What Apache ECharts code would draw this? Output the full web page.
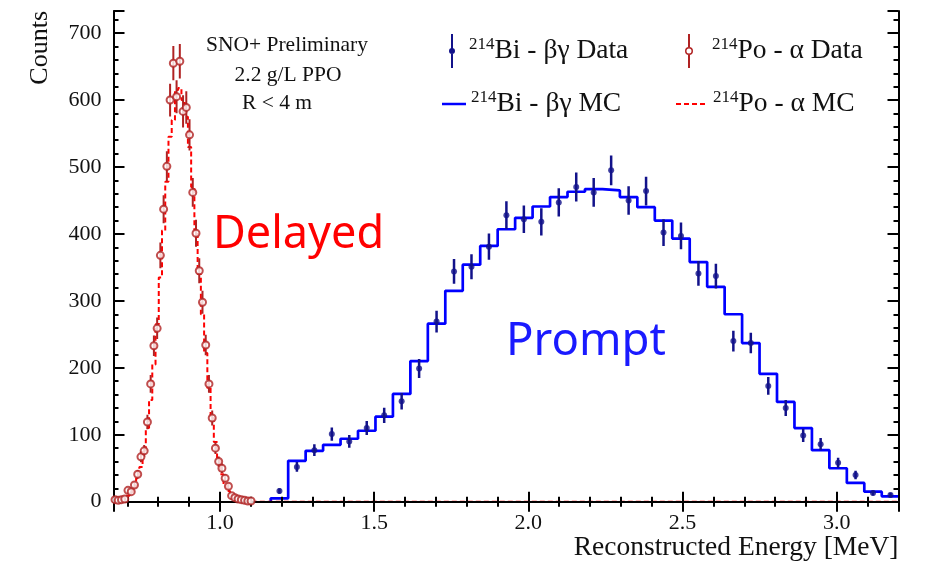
<!DOCTYPE html>
<html><head><meta charset="utf-8">
<script src="https://cdn.jsdelivr.net/npm/echarts@6/dist/echarts.min.js"></script>
<style>html,body{margin:0;padding:0;background:#fff}#c{width:936px;height:577px}</style>
</head><body><div id="c"></div>
<script>
// ---- data ----
const biStart = 1.193, biWidth = 0.0566;          // 214Bi bin centre of first bin, bin width [MeV]
const biData = [16, 52, 77, 101, 90, 110, 129, 150, 199, 269, 344, 351, 381, 428, 422, 418, 447, 470, 462, 495, 450, 464, 402, 397, 341, 337, 240, 237, 173, 140, 99, 86, 58, 40, 13, 10];
const biErr  = [4, 7.2, 8.8, 10, 9.5, 10.5, 11.4, 12.2, 14.1, 16.4, 18.5, 18.7, 19.5, 20.7, 20.5, 20.4, 21.1, 21.7, 21.5, 22.2, 21.2, 21.5, 20, 19.9, 18.5, 18.4, 15.5, 15.4, 13.2, 11.8, 9.9, 9.3, 7.6, 6.3, 3.6, 3.2];
const biMC   = [5, 61, 76, 85, 94, 106, 127, 161, 210, 266, 315, 354, 382, 407, 424, 441, 455, 463, 467, 465, 455, 440, 420, 393, 358, 321, 280, 237, 191, 149, 110, 77, 50, 28, 15, 8];

const poStart = 0.660, poWidth = 0.0105;          // 214Po
const poData = [3, 2, 3, 4, 17, 15, 25, 41, 67, 76, 119, 176, 233, 259, 368, 437, 501, 600, 655, 605, 658, 583, 589, 548, 462, 401, 345, 298, 234, 176, 125, 80, 60, 50, 35, 23, 9, 6, 4, 3, 2, 1, 1];
const poErr  = [1.7, 1.4, 1.7, 2, 4.1, 3.9, 5, 6.4, 8.2, 8.7, 10.9, 13.3, 15.3, 16.1, 19.2, 20.9, 22.4, 24.5, 25.6, 24.6, 25.7, 24.1, 24.3, 23.4, 21.5, 20, 18.6, 17.3, 15.3, 13.3, 11.2, 8.9, 7.7, 7.1, 5.9, 4.8, 3, 2.4, 2, 1.7, 1.4, 1, 1];
const poMC   = [1, 2, 3, 5, 9, 14, 22, 35, 52, 76, 110, 152, 205, 265, 335, 405, 478, 545, 570, 615, 618, 600, 575, 530, 470, 405, 340, 280, 222, 170, 125, 89, 62, 41, 26, 16, 9, 5, 3, 2, 1, 1, 0];

const xRange = [0.655, 3.2];
const yRange = [0, 733];
const xMajorTicks = [1.0, 1.5, 2.0, 2.5, 3.0];
const yMajorTicks = [0, 100, 200, 300, 400, 500, 600, 700];

const names = ['214Bi - βγ Data', '214Po - α Data', '214Bi - βγ MC', '214Po - α MC'];

// ---- build series data ----
function centres(start, w, n) { const c = []; for (let i = 0; i < n; i++) c.push(start + i * w); return c; }
const biX = centres(biStart, biWidth, biData.length);
const poX = centres(poStart, poWidth, poData.length);
function stepPath(xs, w, vals) {
  const p = [[xs[0] - w / 2, 0]];
  vals.forEach((v, i) => { p.push([xs[i] - w / 2, v]); p.push([xs[i] + w / 2, v]); });
  return p;
}
const biStep = stepPath(biX, biWidth, biMC);
const poStep = [[xRange[0], 0]].concat(stepPath(poX, poWidth, poMC)).concat([[xRange[1], 0]]);

function errRender(color, width) {
  return function (params, api) {
    const x = api.value(0), y = api.value(1), e = api.value(2);
    const a = api.coord([x, y - e]), b = api.coord([x, y + e]);
    return { type: 'line', shape: { x1: a[0], y1: a[1], x2: b[0], y2: b[1] }, style: { stroke: color, lineWidth: width } };
  };
}

const SERIF = 'Liberation Serif';
const BLUE_D = '#12128a', RED_D = '#b02222';
const tickStyle = { color: '#000', width: 2 };
const gridBox = { left: 113.5, top: 11, width: 785, height: 490.7, containLabel: false, outerBoundsMode: 'none' };

// grid 0: frame + major ticks, grid 1 (same box): minor ticks
function xAx(grid, pos, split, len, extra) {
  return Object.assign({
    type: 'value', gridIndex: grid, position: pos, min: xRange[0], max: xRange[1], splitNumber: split, z: 5,
    axisLine: { show: grid === 0, lineStyle: { color: '#000', width: 2 } },
    axisTick: { show: true, inside: true, length: len, lineStyle: tickStyle },
    axisLabel: { show: false }, splitLine: { show: false }
  }, extra || {});
}
function yAx(grid, pos, interval, len, extra) {
  return Object.assign({
    type: 'value', gridIndex: grid, position: pos, min: yRange[0], max: yRange[1], interval: interval, z: 5,
    axisLine: { show: grid === 0, lineStyle: { color: '#000', width: 2 } },
    axisTick: { show: true, inside: true, length: len, lineStyle: tickStyle },
    axisLabel: { show: false }, splitLine: { show: false }
  }, extra || {});
}

const legendFmt = n => '{s|' + n.slice(0, 3) + '}{t|' + n.slice(3) + '}';
function legendText(pad) {
  return {
    fontFamily: SERIF, color: '#111', padding: [0, 0, 0, pad],
    rich: {
      s: { fontFamily: SERIF, fontSize: 17, color: '#111', verticalAlign: 'top', lineHeight: 17 },
      t: { fontFamily: SERIF, fontSize: 27.5, color: '#111', lineHeight: 30 }
    }
  };
}

const chart = echarts.init(document.getElementById('c'), null, { renderer: 'canvas' });
chart.setOption({
  backgroundColor: '#fff',
  animation: false,
  grid: [Object.assign({}, gridBox), Object.assign({}, gridBox)],
  xAxis: [
    xAx(0, 'bottom', 5, 10, {
      axisLabel: { show: true, customValues: xMajorTicks, formatter: v => v.toFixed(1), fontFamily: SERIF, fontSize: 22, color: '#111', margin: 11 },
      name: 'Reconstructed Energy [MeV]', nameLocation: 'end', nameGap: 0, nameMoveOverlap: false,
      nameTextStyle: { fontFamily: SERIF, fontSize: 27.5, color: '#111', align: 'right', verticalAlign: 'top', padding: [32, 0, 0, 0] }
    }),
    xAx(0, 'top', 5, 10),
    xAx(1, 'bottom', 25, 5),
    xAx(1, 'top', 25, 5)
  ],
  yAxis: [
    yAx(0, 'left', 100, 11, {
      axisLabel: { show: true, customValues: yMajorTicks, fontFamily: SERIF, fontSize: 22, color: '#111', margin: 12 },
      name: 'Counts', nameLocation: 'end', nameGap: 0, nameRotate: 90, nameMoveOverlap: false,
      nameTextStyle: { fontFamily: SERIF, fontSize: 26, color: '#111', align: 'right', verticalAlign: 'bottom', padding: [0, 0, 60, 0] }
    }),
    yAx(0, 'right', 100, 11),
    yAx(1, 'left', 20, 5),
    yAx(1, 'right', 20, 5)
  ],
  legend: [
    { left: 449, top: 34, padding: 0, itemWidth: 10, itemHeight: 34, selectedMode: false, formatter: legendFmt, textStyle: legendText(7),
      data: [{ name: names[0], icon: 'path://M4,0 L6,0 L6,34 L4,34 Z M5,14 A3,3 0 1 1 5,20 A3,3 0 1 1 5,14 Z', itemStyle: { color: BLUE_D, borderWidth: 0 } }] },
    { left: 685, top: 34, padding: 0, itemWidth: 10, itemHeight: 34, selectedMode: false, formatter: legendFmt, textStyle: legendText(13),
      data: [{ name: names[1], icon: 'path://M4,0 L6,0 L6,13 L4,13 Z M4,21 L6,21 L6,34 L4,34 Z M9,17 A4,4 0 1 0 1,17 A4,4 0 1 0 9,17 Z M7.5,17 A2.5,2.5 0 1 1 2.5,17 A2.5,2.5 0 1 1 7.5,17 Z', itemStyle: { color: RED_D, borderWidth: 0 } }] },
    { left: 442, top: 89, padding: 0, itemWidth: 24, itemHeight: 2.5, selectedMode: false, formatter: legendFmt, textStyle: legendText(0),
      data: [{ name: names[2], icon: 'path://M0,0 L24,0 L24,2.5 L0,2.5 Z', itemStyle: { color: '#0000ff', borderWidth: 0 } }] },
    { left: 676, top: 89, padding: 0, itemWidth: 29, itemHeight: 2, selectedMode: false, formatter: legendFmt, textStyle: legendText(3),
      data: [{ name: names[3], icon: 'path://M0,0 h5 v2 h-5 z M8,0 h5 v2 h-5 z M16,0 h5 v2 h-5 z M24,0 h5 v2 h-5 z', itemStyle: { color: '#ff0000', borderWidth: 0 } }] }
  ],
  graphic: [
    { type: 'text', x: 287, y: 45, style: { text: 'SNO+ Preliminary', fontFamily: SERIF, fontSize: 21.5, fill: '#111', align: 'center', verticalAlign: 'middle' } },
    { type: 'text', x: 288, y: 75, style: { text: '2.2 g/L PPO', fontFamily: SERIF, fontSize: 21.5, fill: '#111', align: 'center', verticalAlign: 'middle' } },
    { type: 'text', x: 242, y: 103.5, style: { text: 'R < 4 m', fontFamily: SERIF, fontSize: 21.5, fill: '#111', align: 'left', verticalAlign: 'middle' } },
    { type: 'text', x: 213, y: 235, style: { text: 'Delayed', fontFamily: 'Noto Sans', fontSize: 45, fill: '#ff0000', align: 'left', verticalAlign: 'middle' } },
    { type: 'text', x: 506, y: 342, style: { text: 'Prompt', fontFamily: 'Noto Sans', fontSize: 45.5, fill: '#1a1aff', align: 'left', verticalAlign: 'middle' } }
  ],
  series: [
    { name: names[2], type: 'line', xAxisIndex: 0, yAxisIndex: 0, data: biStep, showSymbol: false, symbol: 'none', clip: true, z: 2,
      itemStyle: { color: '#0000ff' }, lineStyle: { color: '#0000ff', width: 2.7 } },
    { name: names[3], type: 'line', xAxisIndex: 0, yAxisIndex: 0, data: poStep, showSymbol: false, symbol: 'none', clip: true, z: 2,
      itemStyle: { color: '#ff0000' }, lineStyle: { color: '#ff0000', width: 2, type: [5, 3] } },
    { name: names[0], type: 'custom', xAxisIndex: 0, yAxisIndex: 0, clip: true, z: 3, itemStyle: { color: BLUE_D },
      renderItem: errRender(BLUE_D, 2.5), encode: { x: 0, y: 1 },
      data: biX.map((x, i) => [x, biData[i], biErr[i]]) },
    { name: names[0], type: 'scatter', xAxisIndex: 0, yAxisIndex: 0, z: 4, symbol: 'circle', symbolSize: 6,
      itemStyle: { color: BLUE_D }, data: biX.map((x, i) => [x, biData[i]]) },
    { name: names[1], type: 'custom', xAxisIndex: 0, yAxisIndex: 0, clip: true, z: 6, itemStyle: { color: RED_D },
      renderItem: errRender(RED_D, 2), encode: { x: 0, y: 1 },
      data: poX.map((x, i) => [x, poData[i], poErr[i]]) },
    { name: names[1], type: 'scatter', xAxisIndex: 0, yAxisIndex: 0, z: 7, symbol: 'emptyCircle', symbolSize: 7,
      itemStyle: { color: RED_D, borderWidth: 1.5 }, data: poX.map((x, i) => [x, poData[i]]) }
  ]
});
</script>
</body></html>
